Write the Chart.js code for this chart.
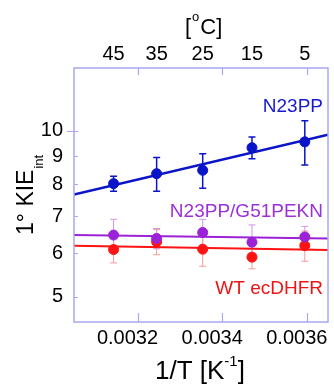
<!DOCTYPE html>
<html><head><meta charset="utf-8">
<script src="https://cdn.jsdelivr.net/npm/chart.js@4"></script>
<style>html,body{margin:0;padding:0;background:#fff;overflow:hidden}</style>
</head><body>
<canvas id="c" width="334" height="386"></canvas>
<script>
// ---- data ----
const invT = [0.0031435, 0.0032452, 0.0033540, 0.0034704, 0.0035952]; // 1/T [K^-1]
const tempsC = [45, 35, 25, 15, 5];                                     // top axis labels
const bottomTicks = [0.0032, 0.0034, 0.0036];
const yTicks = [5, 6, 7, 8, 9, 10];

const n23pp      = [8.02, 8.36, 8.48, 9.32, 9.55];
const n23ppErr   = [0.25, 0.59, 0.61, 0.42, 0.88];
const pekn       = [6.47, 6.38, 6.54, 6.28, 6.42];
const peknErr    = [0.44, 0.27, 0.37, 0.47, 0.29];
const wt         = [6.09, 6.29, 6.10, 5.90, 6.19];
const wtErr      = [0.33, 0.33, 0.42, 0.28, 0.39];

const fitX       = [0.00305, 0.00365];
const n23ppFit   = [7.66, 9.84];
const peknFit    = [6.47, 6.38];
const wtFit      = [6.19, 6.08];

const X_MIN = 0.00305, X_MAX = 0.00365, Y_MIN = 4.5, Y_MAX = 13;

const BLUE = '#0a14c8', PURPLE = '#9b22d6', RED = '#ff1212';
const FONT = 'Liberation Sans, Arial, sans-serif';

const pts = (ys, errs) => ys.map((y, i) => ({x: invT[i], y: y, e: errs[i]}));
const line = ys => ys.map((y, i) => ({x: fitX[i], y: y}));

const noPad = s => { s.paddingLeft = 0; s.paddingRight = 0; s.paddingTop = 0; s.paddingBottom = 0; };

const errorBars = {
  id: 'errorBars',
  beforeDatasetsDraw(chart) {
    const ctx = chart.ctx, xs = chart.scales.x, ys = chart.scales.y;
    chart.data.datasets.forEach(ds => {
      if (!ds.errColor) return;
      ctx.save();
      ctx.strokeStyle = ds.errColor;
      ctx.lineWidth = ds.errWidth;
      ds.data.forEach(p => {
        const px = xs.getPixelForValue(p.x);
        const t = ys.getPixelForValue(p.y + p.e);
        const b = ys.getPixelForValue(p.y - p.e);
        ctx.beginPath();
        ctx.moveTo(px, t); ctx.lineTo(px, b);
        ctx.moveTo(px - 3.5, t); ctx.lineTo(px + 3.5, t);
        ctx.moveTo(px - 3.5, b); ctx.lineTo(px + 3.5, b);
        ctx.stroke();
      });
      ctx.restore();
    });
  },
  afterDraw(chart) {
    const ctx = chart.ctx, a = chart.chartArea, xs = chart.scales.x, ys = chart.scales.y;
    ctx.save();
    ctx.strokeStyle = '#a8a8f0';
    ctx.lineWidth = 1.5;
    ctx.strokeRect(a.left, a.top, a.right - a.left, a.bottom - a.top);
    ctx.lineWidth = 1.2;
    ctx.beginPath();
    bottomTicks.forEach(v => {
      const px = Math.round(xs.getPixelForValue(v)) + 0.5;
      ctx.moveTo(px, a.bottom); ctx.lineTo(px, a.bottom - 9);
      ctx.moveTo(px, a.top); ctx.lineTo(px, a.top + 7);
    });
    yTicks.forEach(v => {
      const py = Math.round(ys.getPixelForValue(v)) + 0.5;
      ctx.moveTo(a.left, py); ctx.lineTo(a.left + 4, py);
    });
    const p10 = Math.round(ys.getPixelForValue(10)) + 0.5;
    ctx.moveTo(a.left - 7, p10); ctx.lineTo(a.left, p10);
    ctx.stroke();

    // axis titles
    ctx.fillStyle = '#000';
    ctx.textBaseline = 'alphabetic';
    ctx.textAlign = 'left';
    // top: [oC]
    ctx.font = '22px ' + FONT;
    let x = 185;
    ctx.fillText('[', x, 33.5); x += ctx.measureText('[').width + 1;
    ctx.font = '13px ' + FONT;
    ctx.fillText('o', x, 20.5); x += ctx.measureText('o').width + 1;
    ctx.font = '22px ' + FONT;
    ctx.fillText('C]', x, 33.5);
    // bottom: 1/T [K-1]
    ctx.font = '26px ' + FONT;
    x = 155;
    ctx.fillText('1/T [K', x, 378.5); x += ctx.measureText('1/T [K').width;
    ctx.font = '15px ' + FONT;
    ctx.fillText('-1', x, 366); x += ctx.measureText('-1').width;
    ctx.font = '26px ' + FONT;
    ctx.fillText(']', x, 378.5);
    // y: 1° KIE_int
    ctx.save();
    ctx.translate(33, 235);
    ctx.rotate(-Math.PI / 2);
    ctx.font = '23px ' + FONT;
    ctx.fillText('1° KIE', 0, 0);
    const w = ctx.measureText('1° KIE').width;
    ctx.font = '13px ' + FONT;
    ctx.fillText('int', w + 1, 10);
    ctx.restore();

    // series labels
    ctx.textAlign = 'right';
    ctx.font = '19px ' + FONT;
    ctx.fillStyle = '#1818d0';
    ctx.fillText('N23PP', 323, 111.5);
    ctx.fillStyle = '#9b30d9';
    ctx.fillText('N23PP/G51PEKN', 323, 216.5);
    ctx.fillStyle = '#ee1515';
    ctx.fillText('WT ecDHFR', 323, 293.5);
    ctx.restore();
  }
};

new Chart(document.getElementById('c'), {
  type: 'scatter',
  data: {
    datasets: [
      {data: pts(n23pp, n23ppErr), backgroundColor: BLUE, borderColor: BLUE, pointRadius: 5, errColor: BLUE, errWidth: 1.5, order: 0},
      {data: pts(pekn, peknErr), backgroundColor: PURPLE, borderColor: PURPLE, pointRadius: 5, errColor: '#cf98ea', errWidth: 1, order: 1},
      {data: pts(wt, wtErr), backgroundColor: RED, borderColor: RED, pointRadius: 5, errColor: '#f49a9a', errWidth: 1, order: 2},
      {data: line(n23ppFit), showLine: true, borderColor: BLUE, borderWidth: 2.5, pointRadius: 0, order: 3},
      {data: line(peknFit), showLine: true, borderColor: PURPLE, borderWidth: 2, pointRadius: 0, order: 4},
      {data: line(wtFit), showLine: true, borderColor: RED, borderWidth: 2, pointRadius: 0, order: 5}
    ]
  },
  options: {
    responsive: false,
    animation: false,
    devicePixelRatio: 1,
    layout: {padding: {left: 0, right: 3, top: 0, bottom: 0}},
    plugins: {legend: {display: false}, tooltip: {enabled: false}},
    scales: {
      x: {
        type: 'linear', position: 'bottom', min: X_MIN, max: X_MAX,
        grid: {display: false, drawTicks: false}, border: {display: false},
        afterBuildTicks: s => { s.ticks = bottomTicks.map(v => ({value: v})); },
        afterFit: s => { s.height = 64; noPad(s); },
        ticks: {autoSkip: false, maxRotation: 0, padding: 4, labelOffset: -10, color: '#000',
          font: {family: FONT, size: 20}, callback: v => v.toFixed(4)}
      },
      x2: {
        type: 'linear', position: 'top', min: X_MIN, max: X_MAX,
        grid: {display: false, drawTicks: false}, border: {display: false},
        afterBuildTicks: s => { s.ticks = invT.map(v => ({value: v})); },
        afterFit: s => { s.height = 68; noPad(s); },
        ticks: {autoSkip: false, maxRotation: 0, padding: 2, color: '#000',
          font: {family: FONT, size: 20}, callback: (v, i) => String(tempsC[i])}
      },
      y: {
        type: 'logarithmic', position: 'left', min: Y_MIN, max: Y_MAX,
        grid: {display: false, drawTicks: false}, border: {display: false},
        afterBuildTicks: s => { s.ticks = yTicks.map(v => ({value: v})); },
        afterFit: s => { s.width = 74; noPad(s); },
        ticks: {autoSkip: false, padding: 11, color: '#000',
          font: {family: FONT, size: 20}, callback: v => String(v)}
      }
    }
  },
  plugins: [errorBars]
});
</script>
</body></html>
